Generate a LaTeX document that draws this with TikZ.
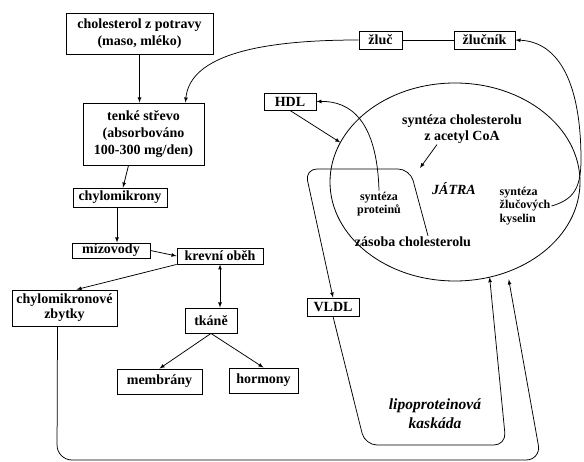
\documentclass[tikz,border=0pt]{standalone}
\usepackage{fontspec}
\setmainfont{Liberation Serif}
\usetikzlibrary{positioning,shapes,arrows}

\begin{document}
\begin{tikzpicture}[
		x=1pt,y=-1pt,
		mybox/.style={draw,line width=0.9pt,align=center,inner sep=1pt,font=\fontsize{14}{17}\selectfont\bfseries},
		mytext/.style={align=center,inner sep=1pt,font=\fontsize{14}{16}\selectfont\bfseries},
		mysmall/.style={inner sep=1pt,font=\fontsize{12}{13.5}\selectfont\bfseries},
		myline/.style={line width=0.75pt}
		]
		\useasboundingbox (0,0) rectangle (584,462);
		% boxes on the left
		\node[mybox,minimum width=147,minimum height=41] (food) at (139.5,33.5) {cholesterol z potravy\\(maso, mléko)};
		\node[mybox,minimum width=121,minimum height=62] (gut) at (143.5,134) {tenké střevo\\(absorbováno\\100-300 mg/den)};
		\node[mybox,minimum width=94,minimum height=19] (chylo) at (120,197.5) {chylomikrony};
		\node[mybox,minimum width=78,minimum height=15] (lymph) at (111,250.5) {mízovody};
		\node[mybox,minimum width=86,minimum height=16] (blood) at (220,256) {krevní oběh};
		\node[mybox,minimum width=105,minimum height=36,font=\fontsize{14}{15}\selectfont\bfseries] (remnants) at (64.5,308) {chylomikronové\\zbytky};
		\node[mybox,minimum width=52,minimum height=25] (tissue) at (211,320.5) {tkáně};
		\node[mybox,minimum width=85,minimum height=25] (membr) at (159.5,381.5) {membrány};
		\node[mybox,minimum width=69,minimum height=25] (horm) at (263.5,380.5) {hormony};
		% boxes on the right
		\node[mybox,minimum width=52,minimum height=17] (hdl) at (290,101.5) {HDL};
		\node[mybox,minimum width=52,minimum height=18] (vldl) at (333,307) {VLDL};
		\node[mybox,minimum width=43,minimum height=18] (bile) at (380.5,40) {žluč};
		\node[mybox,minimum width=61,minimum height=18] (gall) at (484.5,40) {žlučník};
		% liver
		\node[draw,ellipse,line width=0.8pt,inner sep=0,outer sep=0,minimum width=250,minimum height=198] (liver) at (455,182) {};
		\node[mytext] (synth) at (462,129) {syntéza cholesterolu\\z acetyl CoA};
		\node[mytext,font=\fontsize{14}{16}\selectfont\bfseries\itshape] (jatra) at (454,189) {JÁTRA};
		\node[mysmall,align=left] (acids) at (525,206) {syntéza\\žlučových\\kyselin};
		\node[mysmall,align=center] (prot) at (379,204) {syntéza\\proteinů};
		\node[mytext] (store) at (413,242) {zásoba cholesterolu};
		\node[mytext,font=\fontsize{15.5}{19}\selectfont\bfseries\itshape] (cascade) at (435,414) {lipoproteinová\\kaskáda};
		\coordinate (pool) at (420,168);
		% connectors
		\draw[myline,-latex] (food.south) -- (food.south |- gut.north);
		\draw[myline,-latex] ([xshift=-15pt]gut.south) -- ([xshift=3pt]chylo.north);
		\draw[myline,-latex] ([xshift=-3pt]chylo.south) -- ([xshift=6pt]lymph.north);
		\draw[myline,-latex] (lymph.east) -- (blood.west);
		\draw[myline,latex-latex] (blood.south) -- (blood.south |- tissue.north);
		\draw[myline,-latex] (blood.south west) -- ([xshift=12pt]remnants.north);
		\draw[myline,-latex] (tissue.south) -- (membr.north);
		\draw[myline,-latex] (tissue.south) -- (horm.north);
		\draw[myline,-latex] (bile.west) .. controls (260,40) and (190,55) .. ([xshift=-19pt]gut.north east);
		\draw[myline] (gall.west) -- (bile.east);
		\draw[myline,-latex] (acids.east) .. controls (572,200) and (581,190) .. (581,160)
			.. controls (581,85) and (560,42) .. (gall.east);
		\draw[myline,-latex] (prot.north) .. controls (377,120) and (350,101) .. (hdl.east);
		\draw[myline,-latex] (hdl.south) -- (liver.161);
		\draw[myline,-latex] ([xshift=-25pt]synth.south) -- (pool);
		\draw[myline,-latex,rounded corners=12pt] ([xshift=15pt]store.north) -- (410,169) -- (305,169) -- (vldl.north);
		\draw[myline,-latex,rounded corners=12pt] (vldl.south) -- (365,445) -- (506,445) -- (liver.290);
		\draw[myline,-latex,rounded corners=15pt] ([xshift=-7pt]remnants.south) -- (57,460) -- (541,460) -- ([yshift=-8pt]liver.301);
	\end{tikzpicture}
\end{document}
